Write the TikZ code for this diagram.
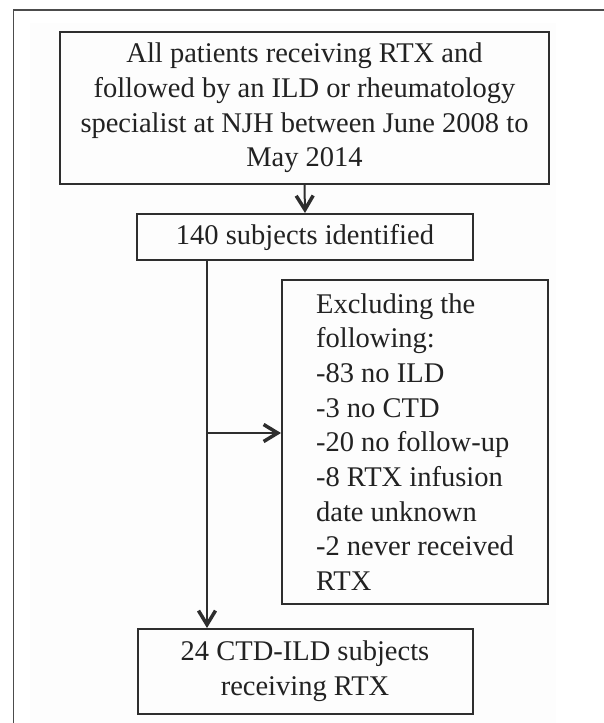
\documentclass[tikz,border=0pt]{standalone}
\usepackage{fontspec}
\setmainfont{Liberation Serif}
\usetikzlibrary{arrows.meta}
\definecolor{linec}{HTML}{2E2E2E}
\definecolor{textc}{HTML}{222222}
\tikzset{
  box/.style={draw=linec, line width=2pt, rectangle, inner sep=0pt, text=textc,
    font=\fontsize{28.5}{34.7}\selectfont, align=center},
  conn/.style={draw=linec, line width=2pt},
  arr/.style={conn, -{Straight Barb[length=14pt,width=17pt,line width=3.5pt]}},
}
\begin{document}
\begin{tikzpicture}[x=1pt,y=-1pt]
\useasboundingbox (0,0) rectangle (604,723);
\fill[gray!1.5] (30,23) rectangle (556,723);
\draw[gray!60!black, line width=1.5pt] (604,10) -- (13.5,10) -- (13.5,723);

\node[box, minimum width=489pt, minimum height=152pt] (top) at (304.5,108)
  {All patients receiving RTX and\\followed by an ILD or rheumatology\\specialist at NJH between June 2008 to\\May 2014};
\node[box, minimum width=336pt, minimum height=46pt] (ident) at (305,237)
  {140 subjects identified};
\node[box, minimum width=266pt, minimum height=324pt, align=left] (excl) at (415,442)
  {Excluding the\\following:\\-83 no ILD\\-3 no CTD\\-20 no follow-up\\-8 RTX infusion\\date unknown\\-2 never received\\RTX};
\node[box, minimum width=335pt, minimum height=85pt] (final) at (305,671.5)
  {24 CTD-ILD subjects\\receiving RTX};

\coordinate (split) at (207,433);
\draw[arr] (top.south) -- (ident.north);
\draw[arr] (ident.south -| split) -- (final.north -| split);
\draw[arr] (split) -- (excl.west |- split);
\end{tikzpicture}
\end{document}
